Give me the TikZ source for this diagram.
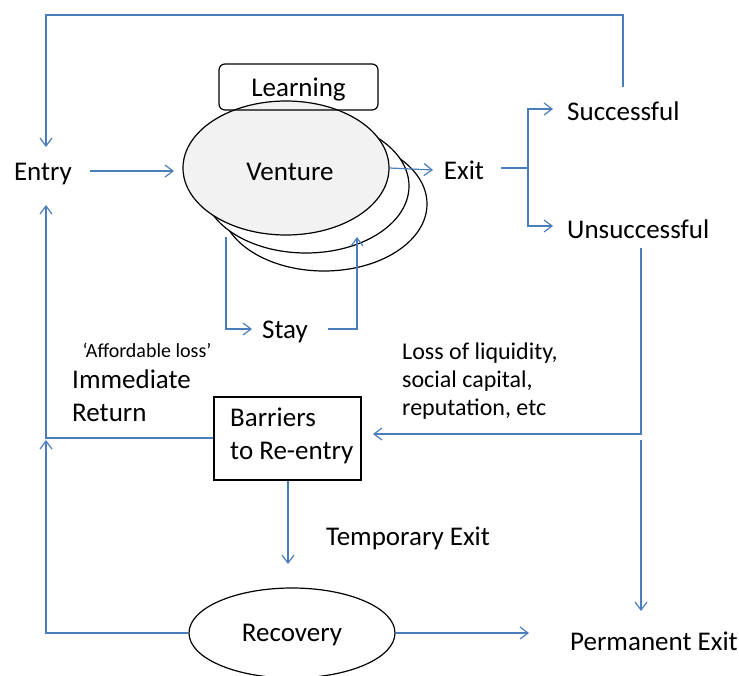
\documentclass[tikz,border=0pt]{standalone}
\usepackage{fontspec}
\setmainfont{Carlito}
\usetikzlibrary{arrows.meta,shapes.geometric}
\definecolor{lineblue}{HTML}{4A7EBB}
\definecolor{ventgray}{HTML}{F2F2F2}
\tikzset{
  arr/.style={draw=lineblue, line width=1.2pt, -{Straight Barb[length=8pt,width=12pt,line width=1.2pt]}},
  ln/.style={draw=lineblue, line width=1.2pt},
  lbl/.style={inner sep=0pt, font=\fontsize{27}{33}\selectfont},
  oval/.style={ellipse, draw=black, line width=1.2pt, inner sep=0pt},
}
\begin{document}
\begin{tikzpicture}[x=1pt,y=-1pt]
\useasboundingbox (0,0) rectangle (739,675);
% Venture stack
\node[oval, fill=white, minimum width=206pt, minimum height=134pt] (v3) at (324,204) {};
\node[oval, fill=white, minimum width=206pt, minimum height=134pt] (v2) at (306,186) {};
\node[oval, fill=ventgray, minimum width=206pt, minimum height=134pt] (venture) at (286,168) {};
\node[lbl] at (290,172) {Venture};
% Learning
\node[draw=black, line width=1.2pt, rounded corners=6pt, minimum width=159pt, minimum height=46pt, inner sep=0pt] (learning) at (298.5,87) {};
\node[lbl] at (298.5,90) {Learning};
% texts
\node[lbl] (entry) at (43,174) {Entry};
\node[lbl] (exit) at (464,170) {Exit};
\node[lbl, anchor=west] (succ) at (567,111) {Successful};
\node[lbl, anchor=west] (unsucc) at (567,229) {Unsuccessful};
\node[lbl] (stay) at (285,332) {Stay};
\node[inner sep=0pt, font=\fontsize{20}{24}\selectfont] (afford) at (147,350) {‘Affordable loss’};
\node[inner sep=0pt, anchor=north west, align=left, font=\fontsize{27}{33}\selectfont] (immed) at (72,370) {Immediate\\Return};
\node[inner sep=0pt, anchor=north west, align=left, font=\fontsize{24}{28}\selectfont] (loss) at (402,343) {Loss of liquidity,\\social capital,\\reputation, etc};
\node[draw=black, line width=1.2pt, minimum width=147pt, minimum height=83pt, inner sep=0pt] (barriers) at (287.5,438.5) {};
\node[inner sep=0pt, anchor=north west, align=left, font=\fontsize{27}{33}\selectfont] (bartext) at (230,408) {Barriers\\to Re-entry};
\node[lbl] (temp) at (408,538) {Temporary Exit};
\node[oval, minimum width=206pt, minimum height=90pt] (recovery) at (292,633) {};
\node[lbl] at (292,635) {Recovery};
\node[lbl, anchor=west] (perm) at (570,641) {Permanent Exit};
% coordinates
\coordinate (tR) at (623,15);
\coordinate (tL) at (46,15);
\coordinate (entryTop) at (46,147);
\coordinate (entryBot) at (46,205);
\coordinate (entryIn) at (174,171);
\coordinate (entryOut) at (90,171);
\coordinate (exitIn) at (433,170);
\coordinate (exitOut) at (501,168);
\coordinate (br) at (528,168);
\coordinate (succIn) at (553,109);
\coordinate (unsIn) at (553,226);
\coordinate (unsOut) at (641,248);
\coordinate (uc) at (641,434);
\coordinate (barIn) at (373,434);
\coordinate (permTop) at (641,440);
\coordinate (permIn) at (641,611);
\coordinate (bl) at (46,438);
\coordinate (recL) at (46,633);
\coordinate (recUp) at (46,440);
\coordinate (recIn) at (529,633);
\coordinate (tempIn) at (288,564);
\coordinate (s1) at (226,237);
\coordinate (s2) at (226,329);
\coordinate (stayIn) at (252,329);
\coordinate (stayOut) at (328,329);
\coordinate (s3) at (357,329);
\coordinate (s4) at (357,237);
% connectors
\draw[arr] (623,87) -- (tR) -- (tL) -- (entryTop);
\draw[arr] (entryOut) -- (entryIn);
\draw[arr] (venture.east) -- (exitIn);
\draw[ln] (exitOut) -- (br);
\draw[arr] (br) |- (succIn);
\draw[arr] (br) |- (unsIn);
\draw[arr] (unsOut) -- (uc) -- (barIn);
\draw[arr] (permTop) -- (permIn);
\draw[arr] (barriers.west |- bl) -- (bl) -- (entryBot);
\draw[arr] (barriers.south -| tempIn) -- (tempIn);
\draw[arr] (recovery.west) -- (recL) -- (recUp);
\draw[arr] (recovery.east) -- (recIn);
\draw[arr] (s1) -- (s2) -- (stayIn);
\draw[arr] (stayOut) -- (s3) -- (s4);
\end{tikzpicture}
\end{document}
